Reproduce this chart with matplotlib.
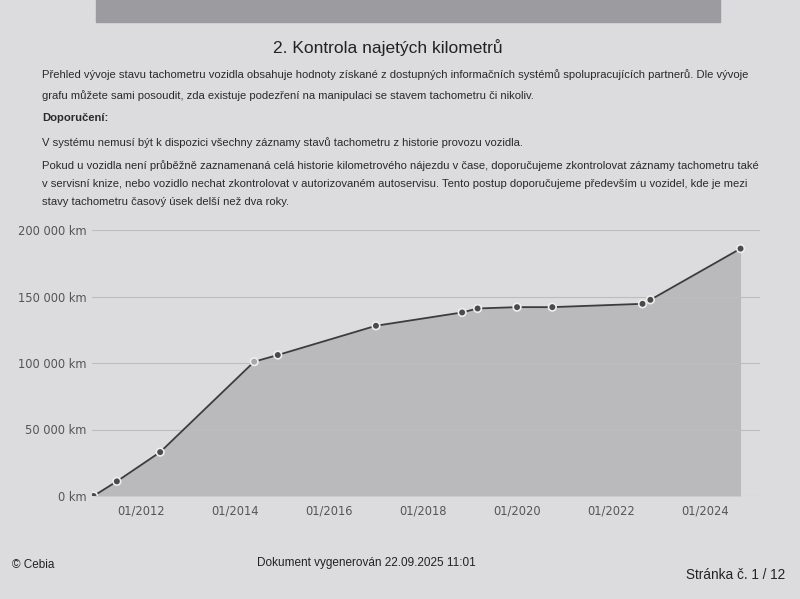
import matplotlib
matplotlib.use("Agg")
import matplotlib.pyplot as plt
import matplotlib.dates as mdates
import pandas as pd
from matplotlib.patches import Rectangle

# Data
dates = ["2011-01-01", "2011-07-01", "2012-06-01", "2014-06-01", "2014-12-01",
         "2017-01-01", "2018-11-01", "2019-03-01", "2020-01-01", "2020-10-01",
         "2022-09-01", "2022-11-01", "2024-10-01"]
km = [0, 11000, 33000, 101000, 106000, 128000, 138000, 141000, 142000, 142000,
      144500, 147500, 186000]
y_ticks = [0, 50000, 100000, 150000, 200000]
x_ticks = ["2012-01-01", "2014-01-01", "2016-01-01", "2018-01-01",
           "2020-01-01", "2022-01-01", "2024-01-01"]

title = "2. Kontrola najetých kilometrů"
paragraph_lines = [
    "Přehled vývoje stavu tachometru vozidla obsahuje hodnoty získané z dostupných informačních systémů spolupracujících partnerů. Dle vývoje",
    "grafu můžete sami posoudit, zda existuje podezření na manipulaci se stavem tachometru či nikoliv.",
]
advice_head = "Doporučení:"
advice_1 = "V systému nemusí být k dispozici všechny záznamy stavů tachometru z historie provozu vozidla."
advice_2 = [
    "Pokud u vozidla není průběžně zaznamenaná celá historie kilometrového nájezdu v čase, doporučujeme zkontrolovat záznamy tachometru také",
    "v servisní knize, nebo vozidlo nechat zkontrolovat v autorizovaném autoservisu. Tento postup doporučujeme především u vozidel, kde je mezi",
    "stavy tachometru časový úsek delší než dva roky.",
]

x = pd.to_datetime(dates)

W, H = 800, 599
fig = plt.figure(figsize=(8, 5.99), dpi=100, facecolor="#dcdcdf")
font = "Liberation Sans"
body = 8.1

# page header band (previous page edge)
fig.patches.append(Rectangle((0.12, 1 - 22 / H), 0.78, 22 / H, transform=fig.transFigure,
                             color="#9c9ca0", zorder=0))

def ftext(px, py, s, **kw):
    fig.text(px / W, 1 - py / H, s, **kw)

ftext(388, 48, title, fontsize=12.5, family=font, ha="center", va="center", color="#222222")
for i, line in enumerate(paragraph_lines):
    ftext(42, 75 + i * 21, line, fontsize=body, family=font, va="center", color="#2a2a2a")
ftext(42, 118, advice_head, fontsize=body, family=font, weight="bold", va="center",
      color="#2a2a2a")
ftext(42, 143, advice_1, fontsize=body, family=font, va="center", color="#2a2a2a")
for i, line in enumerate(advice_2):
    ftext(42, 166 + i * 18, line, fontsize=body, family=font, va="center", color="#2a2a2a")

ftext(12, 565, "© Cebia", fontsize=8.5, family=font, va="center", color="#222222")
ftext(366, 563, "Dokument vygenerován 22.09.2025 11:01", fontsize=8.5, family=font,
      ha="center", va="center", color="#222222")
ftext(785, 575, "Stránka č. 1 / 12", fontsize=9.8, family=font, ha="right", va="center",
      color="#222222")

# chart
ax = fig.add_axes([92 / W, 1 - 496 / H, (760 - 92) / W, (496 - 230) / H])
ax.set_facecolor("none")
ax.fill_between(x, km, 0, color="#a4a4a6", alpha=0.6, linewidth=0, zorder=1)
ax.plot(x, km, color="#3c3c3c", linewidth=1.3, zorder=3)
colors = ["#4a4a4a"] * len(km)
colors[3] = "#a8a8a8"
ax.scatter(x, km, s=30, c=colors, edgecolors="#eeeeee", linewidths=1.2, zorder=4)

ax.set_ylim(0, 200000)
ax.set_xlim(pd.Timestamp("2010-12-20"), pd.Timestamp("2025-03-01"))
ax.set_yticks(y_ticks)
ax.set_yticklabels([f"{v:,} km".replace(",", " ") for v in y_ticks])
ax.set_xticks(pd.to_datetime(x_ticks))
ax.xaxis.set_major_formatter(mdates.DateFormatter("%m/%Y"))
ax.grid(axis="y", color="#bdbdc0", linewidth=0.8, zorder=0)
for s in ax.spines.values():
    s.set_visible(False)
ax.tick_params(length=0, labelsize=8.3, labelcolor="#555555")
ax.tick_params(axis="y", pad=4)
ax.tick_params(axis="x", pad=6)

fig.savefig("out.png", dpi=100, facecolor=fig.get_facecolor())
